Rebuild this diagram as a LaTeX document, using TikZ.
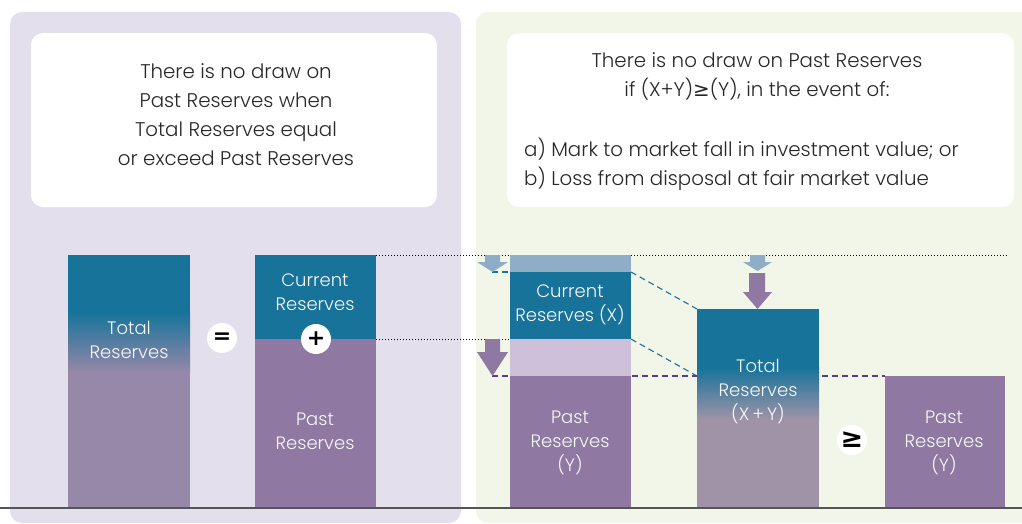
\documentclass[tikz,border=0pt]{standalone}
\usepackage{fontspec}
\setmainfont{Poppins}[UprightFont={* Light}]
\newfontfamily\symfont{DejaVu Sans}
\definecolor{lbg}{RGB}{228,223,236}
\definecolor{rbg}{RGB}{242,246,232}
\definecolor{cteal}{RGB}{23,115,154}
\definecolor{cpur}{RGB}{143,120,162}
\definecolor{gpa}{RGB}{150,136,168}
\definecolor{gpb}{RGB}{160,147,168}
\definecolor{lblue}{RGB}{143,173,199}
\definecolor{llav}{RGB}{205,192,216}
\definecolor{dpur}{RGB}{90,62,132}
\definecolor{txt}{RGB}{40,40,40}
\definecolor{basec}{RGB}{85,85,85}
\tikzset{
  hdr/.style={font=\fontsize{19.8}{29}\selectfont, text=txt, align=center, inner sep=0},
  lab/.style={font=\fontsize{18}{24}\selectfont, text=white!94!cpur, align=center, inner sep=0},
  circ/.style={circle, fill=white, minimum size=30pt, inner sep=0, font=\symfont\bfseries\fontsize{22}{22}\selectfont, text=black},
  dotln/.style={line width=0.9pt, dash pattern=on 0.9pt off 2.1pt, black},
  dashteal/.style={cteal, line width=1.1pt, dash pattern=on 6pt off 4pt},
  dashpur/.style={dpur, line width=1.2pt, dash pattern=on 6pt off 4pt},
}
\begin{document}
\begin{tikzpicture}[x=1pt,y=-1pt]
\useasboundingbox (0,0) rectangle (1022,523);
% panels
\fill[lbg, rounded corners=12pt] (10,12) rectangle (461,523);
\fill[rbg, rounded corners=12pt] (476,12) rectangle (1040,523);
\fill[white, rounded corners=12pt] (31,33) rectangle (437,207);
\fill[white, rounded corners=12pt] (507,33) rectangle (1014,207);
% headers
\node[hdr] (h1) at (236,114.5) {There is no draw on\\Past Reserves when\\Total Reserves equal\\or exceed Past Reserves};
\node[hdr] (h2) at (757,76) {There is no draw on Past Reserves\\if (X+Y){\symfont ≥}(Y), in the event of:};
\node[hdr, align=left, anchor=west] (h3) at (524,164) {a) Mark to market fall in investment value; or\\b) Loss from disposal at fair market value};
% key coordinates
\coordinate (b2tr) at (376,255);
\coordinate (b2mr) at (376,339);
\coordinate (dotend) at (1008,255);
\coordinate (b3ml) at (510,339);
\coordinate (atipa) at (492,272);
\coordinate (b3tl) at (510,272);
\coordinate (b3tr) at (631,272);
\coordinate (b3mr) at (631,339);
\coordinate (b5tl) at (697,309);
\coordinate (b5ml) at (697,376);
\coordinate (atipb) at (492,376);
\coordinate (b4tl) at (885,376);
% dotted and dashed guides
\draw[dotln] (b2tr) -- (dotend);
\draw[dotln] (b2mr) -- (b3ml);
\draw[dashteal] (atipa) -- (b3tl);
\draw[dashteal] (b3tr) -- (b5tl);
\draw[dashteal] (b3mr) -- (b5ml);
\draw[dashpur] (atipb) -- (b4tl);
% bar 1: total reserves
\fill[gpa] (68,255) rectangle (190,508);
\fill[cteal] (68,255) rectangle (190,313);
\shade[top color=cteal, bottom color=gpa] (68,312.5) rectangle (190,372);
% bar 2: current + past
\fill[cteal] (255,255) rectangle (376,339);
\fill[cpur] (255,339) rectangle (376,508);
% bar 3
\fill[lblue] (510,255) rectangle (631,272);
\fill[cteal] (510,272) rectangle (631,339);
\fill[llav] (510,339) rectangle (631,376);
\fill[cpur] (510,376) rectangle (631,508);
% bar 5: total (X+Y)
\fill[gpb] (697,309) rectangle (819,508);
\fill[cteal] (697,309) rectangle (819,368);
\shade[top color=cteal, bottom color=gpb] (697,367.5) rectangle (819,420);
% bar 4: past (Y)
\fill[cpur] (885,376) rectangle (1005,508);
% arrows
\fill[lblue] (485,255) -- (500,255) -- (500,262) -- (508,262) -- (492.5,272) -- (477,262) -- (485,262) -- cycle;
\fill[cpur] (485,339) -- (500,339) -- (500,352) -- (508,352) -- (492.5,376) -- (477,352) -- (485,352) -- cycle;
\fill[lblue] (750,255) -- (765,255) -- (765,262) -- (772,262) -- (757.5,271) -- (743,262) -- (750,262) -- cycle;
\fill[cpur] (749,273) -- (765,273) -- (765,292) -- (772,292) -- (757.5,309) -- (743,292) -- (749,292) -- cycle;
% bar labels
\node[lab] (l1) at (129,339.5) {Total\\Reserves};
\node[lab] (l2) at (315,292) {Current\\Reserves};
\node[lab] (l3) at (315,431) {Past\\Reserves};
\node[lab] (l4) at (570,305) {Current\\Reserves (X)};
\node[lab] (l5) at (570,443) {Past\\Reserves\\(Y)};
\node[lab] (l6) at (758,391.5) {Total\\Reserves\\(X\,+\,Y)};
\node[lab] (l7) at (944,443) {Past\\Reserves\\(Y)};
% operators
\node[circ] (eq) at (222,338) {=};
\node[circ] (plus) at (316,339) {+};
\node[circ, font=\symfont\bfseries\fontsize{27}{27}\selectfont] (geq) at (852,440) {≥};
% baseline
\coordinate (bl) at (0,508);
\coordinate (br) at (1022,508);
\draw[basec, line width=1.4pt] (bl) -- (br);
\end{tikzpicture}
\end{document}
